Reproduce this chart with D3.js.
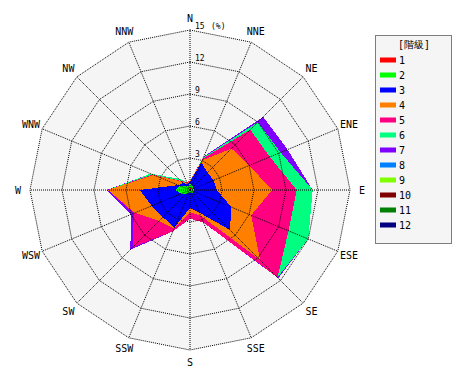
<!DOCTYPE html>
<html>
<head>
<meta charset="utf-8">
<script src="https://cdn.jsdelivr.net/npm/d3@7"></script>
<style>
  body { margin: 0; background: #fff; }
  text { font-family: "DejaVu Sans Mono", monospace; fill: #000; }
</style>
</head>
<body>
<div class="svg-container"></div>
<script>
//Data: frequency (%) per class for 16 directions
const dirs = ['N','NNE','NE','ENE','E','ESE','SE','SSE','S','SSW','SW','WSW','W','WNW','NW','NNW'];
const classes = ['1','2','3','4','5','6','7','8','9','10','11','12'];
const colors = ['#ff0000','#00ff00','#0000ff','#ff8000','#ff0080','#00ff80','#8000ff','#0080ff','#80ff00','#800000','#008000','#000080'];
const ringTicks = [3, 6, 9, 12, 15];

const cls1  = [0.2,0.3,0.1,0.1,0.1,0.1,0.1,0.1,0.1,0.1,0.1,0.1,0.2,0.1,0.1,0.1];
const cls2  = [0.4,0.2,0.3,0.2,0.3,0.2,0.3,0.2,0.2,0.2,0.4,0.8,1.2,0.9,0.4,0.3];
const cls3  = [0.2,2.3,1.9,2.1,2.1,3.9,4.9,2.0,1.4,3.5,3.1,3.0,3.3,0.2,0.4,0.2];
const cls4  = [0.1,0.2,3.2,3.6,5.2,2.0,4.0,0.3,0.4,0.1,0.5,1.7,3.0,2.5,0.2,0.1];
const cls5  = [0.0,0.2,2.5,2.1,2.3,3.8,2.3,0.7,0.6,0.3,3.5,0.1,0.0,0.1,0.1,0.1];
const cls6  = [0.0,0.1,1.0,1.1,1.5,2.0,0.0,0.0,0.0,0.0,0.0,0.0,0.0,0.2,0.3,0.0];
const cls7  = [0.0,0.1,0.7,0.7,0.0,0.0,0.1,0.0,0.0,0.0,0.3,0.3,0.1,0.0,0.0,0.0];
const cls8  = [0,0,0,0,0,0,0,0,0,0,0,0,0,0,0,0];
const cls9  = [0,0,0,0,0,0,0,0,0,0,0,0,0,0,0,0];
const cls10 = [0,0,0,0,0,0,0,0,0,0,0,0,0,0,0,0];
const cls11 = [0,0,0,0,0,0,0,0,0,0,0,0,0,0,0,0];
const cls12 = [0,0,0,0,0,0,0,0,0,0,0,0,0,0,0,0];
const series = [cls1,cls2,cls3,cls4,cls5,cls6,cls7,cls8,cls9,cls10,cls11,cls12];

//build table for d3.stack
const table = dirs.map((d, i) => {
  const row = {dir: d};
  classes.forEach((c, k) => row[c] = series[k][i]);
  return row;
});
const stacked = d3.stack().keys(classes)(table);

////////////////////////////////////////////////////////
const width = 470, height = 380;
const cx = 190, cy = 190, R = 160;

const svg = d3.select('.svg-container')
    .append('svg')
    .attr('width', width)
    .attr('height', height);

const g = svg.append('g').attr('transform', `translate(${cx},${cy})`);

const r = d3.scaleLinear().domain([0, 15]).range([0, R]);
const angle = d3.scaleBand().domain(dirs).range([0, 2 * Math.PI]).align(0).paddingInner(0);
const ang = d => angle(d);

const ring = d3.lineRadial()
    .angle((d, i) => ang(dirs[i]))
    .radius(d => r(d))
    .curve(d3.curveLinearClosed);

// background
g.append('path')
    .attr('d', ring(dirs.map(() => 15)))
    .attr('fill', '#f5f5f5');

// stacked polygons, outer classes first
const areas = g.append('g');
for (let k = stacked.length - 1; k >= 0; k--) {
  areas.append('path')
      .attr('d', ring(stacked[k].map(d => d[1])))
      .attr('fill', colors[k])
      .attr('shape-rendering', 'crispEdges');
}

// grid
const grid = g.append('g')
    .attr('fill', 'none')
    .attr('stroke', '#000')
    .attr('stroke-width', 1)
    .attr('stroke-dasharray', '1,1');

ringTicks.forEach(t => {
  grid.append('path').attr('d', ring(dirs.map(() => t)));
});
dirs.forEach(d => {
  const a = ang(d);
  grid.append('line')
      .attr('x1', 0).attr('y1', 0)
      .attr('x2', r(15) * Math.sin(a))
      .attr('y2', -r(15) * Math.cos(a));
});

// ring labels
g.selectAll('.tick')
  .data(ringTicks)
  .enter().append('text')
    .attr('class', 'tick')
    .attr('x', 5)
    .attr('y', d => -r(d) - 1)
    .style('font-size', '8px')
    .text(d => d);
g.append('text')
    .attr('x', 21)
    .attr('y', -r(15) - 1)
    .style('font-size', '8px')
    .text('(%)');

// direction labels
g.selectAll('.dir')
  .data(dirs)
  .enter().append('text')
    .attr('class', 'dir')
    .attr('x', d => 172 * Math.sin(ang(d)))
    .attr('y', d => -172 * Math.cos(ang(d)))
    .attr('dy', '0.35em')
    .attr('text-anchor', 'middle')
    .style('font-size', '10px')
    .text(d => d);

// legend
const legend = svg.append('g').attr('transform', 'translate(375,35)');
legend.append('rect')
    .attr('x', 0.5).attr('y', 0.5)
    .attr('width', 76).attr('height', 208)
    .attr('fill', '#f5f5f5')
    .attr('stroke', '#000')
    .attr('stroke-dasharray', '1,1');
legend.append('text')
    .attr('x', 39).attr('y', 9)
    .attr('dy', '0.35em')
    .attr('text-anchor', 'middle')
    .style('font-size', '10px')
    .text('[階級]');

const item = legend.selectAll('.item')
  .data(classes)
  .enter().append('g')
    .attr('class', 'item')
    .attr('transform', (d, i) => `translate(0,${25 + i * 15})`);
item.append('rect')
    .attr('x', 5).attr('y', -2.5)
    .attr('width', 16).attr('height', 5)
    .attr('fill', (d, i) => colors[i]);
item.append('text')
    .attr('x', 24).attr('y', 0)
    .attr('dy', '0.35em')
    .style('font-size', '10px')
    .text(d => d);
</script>
</body>
</html>
